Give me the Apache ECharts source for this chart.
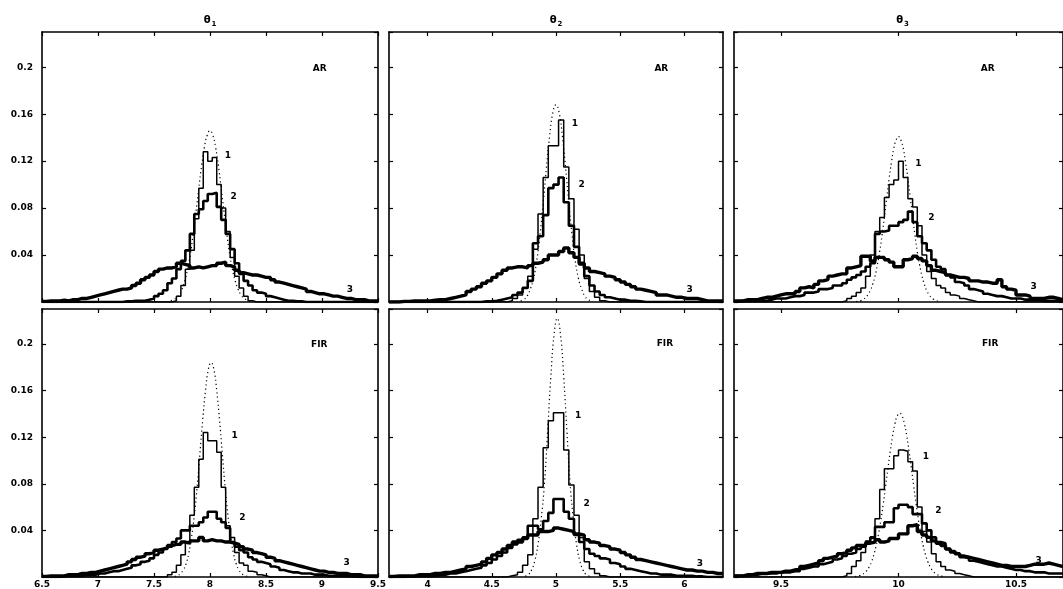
<!DOCTYPE html>
<html>
<head>
<meta charset="utf-8">
<script src="https://cdn.jsdelivr.net/npm/echarts@6.0.0/dist/echarts.min.js"></script>
<style>
html, body { margin: 0; padding: 0; background: #fff; }
#chart { width: 1063px; height: 589px; }
</style>
</head>
<body>
<div id="chart"></div>
<script>
// x ranges, bin widths and tick labels of the three columns (theta1, theta2, theta3)
const xRange = [[6.5, 9.5], [3.7, 6.3], [9.3, 10.7]]
const binWidth = [0.04, 0.04, 0.02]
const xTicks = [[6.5, 7, 7.5, 8, 8.5, 9, 9.5], [4, 4.5, 5, 5.5, 6], [9.5, 10, 10.5]]
const yMax = 0.23
const yStep = 0.04
const colTitles = ['1', '2', '3']

// AR, theta1 : one value per bin, bins start at xRange[0][0]
const ar1H1 = [0,0,0,0,0,0,0,0,0,0, 0,0,0,0,0,0,0,0,0,0, 0,0,0,0,0,0,0,0,0,0.001,
  0.005,0.014,0.028,0.044,0.071,0.097,0.128,0.12,0.123,0.1, 0.08,0.06,0.038,0.022,0.012,0.005,0.001,0,0,0,
  0,0,0,0,0,0,0,0,0,0, 0,0,0,0,0,0,0,0,0,0, 0,0,0,0,0]
const ar1H2 = [0,0,0,0,0,0,0,0,0,0, 0,0,0,0,0,0,0,0,0.0005,0.0005, 0.001,0.001,0.001,0.002,0.003,0.005,0.007,0.01,0.016,0.02,
  0.028,0.035,0.044,0.058,0.075,0.079,0.086,0.092,0.093,0.081, 0.07,0.058,0.045,0.033,0.024,0.018,0.014,0.01,0.008,0.007,
  0.005,0.004,0.003,0.002,0.001,0.001,0.0005,0.0005,0,0, 0,0,0,0,0,0,0,0,0,0, 0,0,0,0,0]
const ar1H3 = [0.0005,0.001,0.001,0.001,0.0015,0.001,0.002,0.002,0.003,0.003, 0.004,0.005,0.006,0.007,0.008,0.009,0.01,0.011,0.011,0.012,
  0.014,0.016,0.019,0.021,0.023,0.026,0.028,0.029,0.029,0.03, 0.033,0.032,0.031,0.029,0.03,0.029,0.03,0.031,0.031,0.033,
  0.034,0.031,0.03,0.027,0.025,0.024,0.023,0.023,0.022,0.021, 0.021,0.019,0.017,0.016,0.015,0.014,0.013,0.012,0.011,0.009,
  0.008,0.007,0.007,0.006,0.005,0.005,0.004,0.003,0.003,0.002, 0.002,0.002,0.001,0.001,0.001]
const ar1Dot = [0.001,0.002,0.0035,0.0064,0.011,0.018,0.028,0.041,0.058,0.077,0.097,0.116,0.132,0.142,0.146,
  0.142,0.132,0.116,0.097,0.077,0.058,0.041,0.028,0.018,0.011,0.0064,0.0035,0.002,0.001]
const ar1DotFrom = 7.65, ar1DotStep = 0.025

// AR, theta2
const ar2H1 = [0,0,0,0,0,0,0,0,0,0, 0,0,0,0,0,0,0,0,0,0, 0,0,0,0.001,0.003,0.006,0.012,0.022,0.045,0.075,
  0.106,0.133,0.133,0.155,0.115,0.088,0.062,0.04,0.02,0.009, 0.004,0.001,0,0,0,0,0,0,0,0,
  0,0,0,0,0,0,0,0,0,0, 0,0,0,0,0]
const ar2H2 = [0,0,0,0,0,0,0,0,0,0, 0,0,0,0,0,0,0,0,0.0005,0.0005, 0.001,0.002,0.003,0.004,0.006,0.008,0.012,0.018,0.05,0.056,
  0.074,0.097,0.1,0.106,0.085,0.065,0.047,0.032,0.022,0.014, 0.009,0.006,0.004,0.003,0.002,0.002,0.001,0.001,0.0005,0,
  0,0,0,0,0,0,0,0,0,0, 0,0,0,0,0]
const ar2H3 = [0,0,0.0005,0.0005,0.001,0.001,0.001,0.001,0.0015,0.002, 0.002,0.003,0.004,0.005,0.006,0.009,0.011,0.013,0.016,0.018,
  0.021,0.024,0.027,0.029,0.03,0.03,0.029,0.031,0.033,0.034, 0.036,0.04,0.04,0.043,0.046,0.042,0.038,0.033,0.029,0.026,
  0.025,0.024,0.022,0.021,0.019,0.017,0.015,0.013,0.011,0.01, 0.009,0.008,0.006,0.006,0.005,0.004,0.004,0.003,0.003,0.003,
  0.002,0.001,0.001,0.001,0.001]
const ar2Dot = [0.001,0.002,0.005,0.011,0.02,0.035,0.057,0.084,0.114,0.141,0.161,0.168,
  0.161,0.141,0.114,0.084,0.057,0.035,0.02,0.011,0.005,0.002,0.001]
const ar2DotFrom = 4.725, ar2DotStep = 0.025

// AR, theta3
const ar3H1 = [0,0,0,0,0,0,0,0,0,0, 0,0,0,0,0,0,0,0,0,0, 0,0,0,0.001,0.003,0.005,0.008,0.012,0.022,0.04,
  0.06,0.072,0.089,0.1,0.104,0.12,0.106,0.088,0.081,0.065, 0.04,0.026,0.02,0.014,0.012,0.008,0.006,0.005,0.003,0.002,
  0.001,0,0,0,0,0,0,0,0,0, 0,0,0,0,0,0,0,0,0,0]
const ar3H2 = [0.0005,0.001,0.001,0.001,0.001,0.001,0.001,0.002,0.003,0.003, 0.003,0.004,0.005,0.005,0.006,0.008,0.008,0.009,0.011,0.011,
  0.012,0.014,0.014,0.016,0.019,0.021,0.023,0.026,0.03,0.033, 0.058,0.06,0.061,0.065,0.065,0.068,0.07,0.077,0.068,0.056,
  0.05,0.044,0.036,0.03,0.028,0.023,0.021,0.017,0.016,0.014, 0.011,0.01,0.009,0.007,0.006,0.005,0.005,0.004,0.003,0.003,
  0.003,0.002,0.002,0.002,0.002,0.001,0.001,0.001,0.001,0.0005]
const ar3H3 = [0.001,0.001,0.002,0.002,0.002,0.003,0.004,0.004,0.005,0.006, 0.007,0.007,0.007,0.009,0.012,0.013,0.012,0.015,0.018,0.019,
  0.022,0.023,0.024,0.024,0.029,0.03,0.031,0.039,0.039,0.035, 0.038,0.038,0.036,0.034,0.03,0.03,0.036,0.037,0.039,0.037,
  0.035,0.031,0.027,0.026,0.025,0.023,0.022,0.021,0.021,0.02, 0.018,0.018,0.017,0.017,0.016,0.016,0.019,0.013,0.011,0.01,
  0.006,0.006,0.005,0.003,0.003,0.003,0.004,0.004,0.003,0.002]
const ar3Dot = [0.0003,0.0007,0.0012,0.0022,0.0038,0.0062,0.0098,0.015,0.022,0.0315,0.043,0.057,0.0725,0.089,0.105,0.119,0.131,0.138,0.141,
  0.138,0.131,0.119,0.105,0.089,0.0725,0.057,0.043,0.0315,0.022,0.015,0.0098,0.0062,0.0038,0.0022,0.0012,0.0007,0.0003]
const ar3DotFrom = 9.82, ar3DotStep = 0.01

// FIR, theta1
const fir1H1 = [0,0,0,0,0,0,0,0,0,0, 0,0,0,0,0,0,0,0,0,0, 0,0,0,0,0,0,0,0,0.002,0.004,
  0.01,0.019,0.03,0.053,0.077,0.101,0.124,0.117,0.117,0.107, 0.077,0.044,0.034,0.021,0.012,0.01,0.005,0.004,0.002,0.001,
  0,0,0,0,0,0,0,0,0,0, 0,0,0,0,0,0,0,0,0,0, 0,0,0,0,0]
const fir1H2 = [0,0,0,0,0.0005,0.001,0.001,0.001,0.001,0.002, 0.002,0.002,0.003,0.003,0.004,0.005,0.005,0.006,0.007,0.008,
  0.01,0.011,0.013,0.014,0.016,0.019,0.021,0.024,0.026,0.03, 0.033,0.04,0.04,0.044,0.044,0.047,0.051,0.056,0.056,0.05,
  0.047,0.042,0.03,0.026,0.023,0.021,0.017,0.015,0.013,0.012, 0.011,0.009,0.008,0.006,0.005,0.004,0.004,0.003,0.003,0.003,
  0.002,0.002,0.002,0.001,0.001,0.001,0.001,0.001,0.0005,0.0005, 0,0,0,0,0]
const fir1H3 = [0.0005,0.001,0.001,0.001,0.001,0.002,0.002,0.002,0.003,0.003, 0.004,0.004,0.005,0.006,0.007,0.008,0.009,0.01,0.011,0.013,
  0.015,0.017,0.018,0.02,0.021,0.023,0.024,0.025,0.027,0.028, 0.028,0.03,0.029,0.031,0.031,0.034,0.031,0.032,0.031,0.031,
  0.03,0.03,0.029,0.028,0.026,0.024,0.023,0.021,0.02,0.019, 0.017,0.016,0.014,0.013,0.012,0.011,0.01,0.009,0.008,0.007,
  0.006,0.005,0.005,0.004,0.004,0.003,0.003,0.003,0.002,0.002, 0.002,0.001,0.001,0.001,0.001]
const fir1Dot = [0.0005,0.0013,0.0028,0.0058,0.011,0.02,0.034,0.053,0.077,0.106,0.135,0.16,0.178,0.184,
  0.178,0.16,0.135,0.106,0.077,0.053,0.034,0.02,0.011,0.0058,0.0028,0.0013,0.0005]
const fir1DotFrom = 7.685, fir1DotStep = 0.025

// FIR, theta2
const fir2H1 = [0,0,0,0,0,0,0,0,0,0, 0,0,0,0,0,0,0,0,0,0, 0,0,0,0.001,0.002,0.004,0.01,0.019,0.05,0.077,
  0.111,0.134,0.141,0.141,0.109,0.079,0.053,0.034,0.013,0.007, 0.003,0.001,0,0,0,0,0,0,0,0,
  0,0,0,0,0,0,0,0,0,0, 0,0,0,0,0]
const fir2H2 = [0,0,0,0.0005,0.0005,0.001,0.001,0.001,0.001,0.002, 0.002,0.003,0.003,0.004,0.005,0.006,0.007,0.008,0.01,0.012,
  0.015,0.018,0.021,0.025,0.028,0.032,0.034,0.044,0.044,0.041, 0.048,0.055,0.067,0.067,0.056,0.05,0.036,0.03,0.024,0.02,
  0.018,0.016,0.015,0.012,0.011,0.009,0.007,0.006,0.005,0.004, 0.003,0.003,0.002,0.002,0.002,0.001,0.001,0.001,0.001,0.0005,
  0.0005,0,0,0,0]
const fir2H3 = [0.0005,0.001,0.001,0.001,0.001,0.002,0.002,0.002,0.003,0.003, 0.004,0.004,0.005,0.006,0.007,0.009,0.01,0.011,0.013,0.016,
  0.019,0.021,0.024,0.027,0.03,0.03,0.033,0.036,0.036,0.039, 0.039,0.04,0.042,0.041,0.04,0.039,0.037,0.036,0.032,0.03,
  0.029,0.027,0.026,0.024,0.023,0.021,0.019,0.017,0.015,0.014, 0.013,0.012,0.011,0.01,0.009,0.008,0.007,0.006,0.006,0.005,
  0.005,0.004,0.004,0.003,0.003]
const fir2Dot = [0.0007,0.002,0.006,0.014,0.028,0.05,0.08,0.125,0.172,0.208,0.222,
  0.208,0.172,0.125,0.08,0.05,0.028,0.014,0.006,0.002,0.0007]
const fir2DotFrom = 4.76, fir2DotStep = 0.025

// FIR, theta3
const fir3H1 = [0,0,0,0,0,0,0,0,0,0, 0,0,0,0,0,0,0,0,0,0, 0,0,0,0.001,0.003,0.009,0.014,0.021,0.031,0.033,
  0.05,0.075,0.093,0.093,0.104,0.109,0.108,0.099,0.091,0.06, 0.039,0.03,0.02,0.013,0.009,0.006,0.005,0.003,0.002,0.001,
  0,0,0,0,0,0,0,0,0,0, 0,0,0,0,0,0,0,0,0,0]
const fir3H2 = [0.001,0.001,0.001,0.002,0.002,0.003,0.003,0.003,0.003,0.004, 0.004,0.004,0.005,0.005,0.007,0.008,0.009,0.009,0.011,0.012,
  0.013,0.015,0.016,0.018,0.02,0.021,0.024,0.026,0.03,0.034, 0.043,0.043,0.047,0.047,0.059,0.062,0.062,0.06,0.054,0.054,
  0.046,0.04,0.034,0.03,0.029,0.024,0.021,0.02,0.017,0.016, 0.014,0.013,0.012,0.011,0.01,0.009,0.009,0.008,0.007,0.006,
  0.006,0.005,0.005,0.004,0.004,0.004,0.003,0.003,0.003,0.003]
const fir3H3 = [0.001,0.001,0.002,0.002,0.003,0.003,0.003,0.004,0.004,0.004, 0.005,0.005,0.006,0.007,0.009,0.01,0.011,0.012,0.014,0.016,
  0.017,0.018,0.02,0.021,0.023,0.025,0.027,0.027,0.029,0.03, 0.032,0.03,0.031,0.033,0.033,0.037,0.037,0.044,0.045,0.039,
  0.036,0.034,0.031,0.029,0.027,0.024,0.022,0.02,0.018,0.017, 0.016,0.015,0.014,0.013,0.012,0.011,0.01,0.01,0.009,0.009,
  0.009,0.009,0.01,0.011,0.011,0.011,0.012,0.011,0.01,0.009]
const fir3Dot = [0.0004,0.0007,0.0012,0.002,0.0034,0.0055,0.0086,0.013,0.019,0.0269,0.0369,0.0488,0.0626,0.0776,0.093,0.1079,0.1212,0.1316,0.1383,0.1406,
  0.1383,0.1316,0.1212,0.1079,0.093,0.0776,0.0626,0.0488,0.0369,0.0269,0.019,0.013,0.0086,0.0055,0.0034,0.002,0.0012,0.0007,0.0004]
const fir3DotFrom = 9.815, fir3DotStep = 0.01

// text notes: [text, x, y] in data units
const ar1Notes = [['1', 8.16, 0.125], ['2', 8.21, 0.09], ['3', 9.25, 0.0105], ['AR', 8.98, 0.199]]
const ar2Notes = [['1', 5.147, 0.152], ['2', 5.2, 0.1], ['3', 6.04, 0.0105], ['AR', 5.82, 0.199]]
const ar3Notes = [['1', 10.085, 0.118], ['2', 10.14, 0.072], ['3', 10.575, 0.013], ['AR', 10.38, 0.199]]
const fir1Notes = [['1', 8.22, 0.1215], ['2', 8.29, 0.051], ['3', 9.22, 0.012], ['FIR', 8.976, 0.199]]
const fir2Notes = [['1', 5.173, 0.1386], ['2', 5.239, 0.0629], ['3', 6.12, 0.0115], ['FIR', 5.848, 0.2]]
const fir3Notes = [['1', 10.117, 0.1037], ['2', 10.17, 0.0566], ['3', 10.596, 0.0143], ['FIR', 10.39, 0.2]]

const panels = [
  { row: 0, col: 0, hist: [ar1H1, ar1H2, ar1H3], dot: ar1Dot, dotFrom: ar1DotFrom, dotStep: ar1DotStep, notes: ar1Notes },
  { row: 0, col: 1, hist: [ar2H1, ar2H2, ar2H3], dot: ar2Dot, dotFrom: ar2DotFrom, dotStep: ar2DotStep, notes: ar2Notes },
  { row: 0, col: 2, hist: [ar3H1, ar3H2, ar3H3], dot: ar3Dot, dotFrom: ar3DotFrom, dotStep: ar3DotStep, notes: ar3Notes },
  { row: 1, col: 0, hist: [fir1H1, fir1H2, fir1H3], dot: fir1Dot, dotFrom: fir1DotFrom, dotStep: fir1DotStep, notes: fir1Notes },
  { row: 1, col: 1, hist: [fir2H1, fir2H2, fir2H3], dot: fir2Dot, dotFrom: fir2DotFrom, dotStep: fir2DotStep, notes: fir2Notes },
  { row: 1, col: 2, hist: [fir3H1, fir3H2, fir3H3], dot: fir3Dot, dotFrom: fir3DotFrom, dotStep: fir3DotStep, notes: fir3Notes },
]

const FONT = 'DejaVu Sans, Liberation Sans, sans-serif'
const colBox = [{ left: 42, width: 336 }, { left: 389, width: 334 }, { left: 734, width: 337 }]
const rowBox = [{ top: 32, height: 270 }, { top: 309, height: 268 }]
const histWidth = [1.5, 2.6, 3.4]

// bin edges -> stair points
function stairs(values, from, w) {
  const pts = values.map((v, i) => [from + i * w, v])
  pts.push([from + values.length * w, values[values.length - 1]])
  return pts
}

const chart = echarts.init(document.getElementById('chart'))

const grid = []
const xAxis = []
const yAxis = []
const series = []

panels.forEach((p, k) => {
  grid.push({ left: colBox[p.col].left, width: colBox[p.col].width, top: rowBox[p.row].top, height: rowBox[p.row].height })

  const axLine = { show: true, onZero: false, lineStyle: { color: '#000', width: 1.6 } }
  const tick = { show: true, inside: true, length: 4, lineStyle: { color: '#000', width: 1.2 } }
  const lbl = { color: '#000', fontSize: 9, fontWeight: 'bold', fontFamily: FONT }

  ;['bottom', 'top'].forEach(pos => {
    xAxis.push({
      type: 'value', gridIndex: k, position: pos,
      min: xRange[p.col][0], max: xRange[p.col][1],
      axisLine: axLine,
      axisTick: Object.assign({ customValues: xTicks[p.col] }, tick),
      axisLabel: Object.assign({ show: pos === 'bottom' && p.row === 1, customValues: xTicks[p.col], margin: 3 }, lbl),
      splitLine: { show: false },
    })
  })
  ;['left', 'right'].forEach(pos => {
    yAxis.push({
      type: 'value', gridIndex: k, position: pos,
      min: 0, max: yMax, interval: yStep,
      axisLine: axLine,
      axisTick: tick,
      axisLabel: Object.assign({ show: pos === 'left' && p.col === 0, showMinLabel: false, showMaxLabel: false, margin: 9 }, lbl),
      splitLine: { show: false },
    })
  })

  series.push({
    type: 'line', xAxisIndex: 2 * k, yAxisIndex: 2 * k,
    data: p.dot.map((v, i) => [p.dotFrom + i * p.dotStep, v]),
    smooth: true, showSymbol: false, silent: true,
    lineStyle: { color: '#000', width: 1.2, type: [1.2, 3] },
  })

  p.hist.forEach((h, j) => {
    const s = {
      type: 'line', xAxisIndex: 2 * k, yAxisIndex: 2 * k,
      data: stairs(h, xRange[p.col][0], binWidth[p.col]),
      step: 'end', showSymbol: false, silent: true,
      lineStyle: { color: '#000', width: histWidth[j] },
    }
    if (j === 0) {
      s.markPoint = {
        symbol: 'circle', symbolSize: 0, silent: true,
        itemStyle: { color: 'rgba(0,0,0,0)' },
        label: { show: true, position: 'inside', formatter: '{b}', color: '#000', fontSize: 9, fontWeight: 'bold', fontFamily: FONT },
        data: p.notes.map(n => ({ name: n[0], coord: [n[1], n[2]] })),
      }
    }
    series.push(s)
  })
})

const graphic = colTitles.map((t, c) => ({
  type: 'text',
  x: colBox[c].left + colBox[c].width / 2,
  y: 20,
  style: {
    text: '{t|θ}{s|' + t + '}',
    align: 'center',
    verticalAlign: 'middle',
    rich: {
      t: { fontSize: 10, fontWeight: 'bold', fontFamily: 'DejaVu Sans', fill: '#000' },
      s: { fontSize: 7, fontWeight: 'bold', fontFamily: FONT, fill: '#000', padding: [8, 0, 0, 1] },
    },
  },
}))

chart.setOption({
  backgroundColor: '#fff',
  animation: false,
  grid,
  xAxis,
  yAxis,
  series,
  graphic,
})
</script>
</body>
</html>
